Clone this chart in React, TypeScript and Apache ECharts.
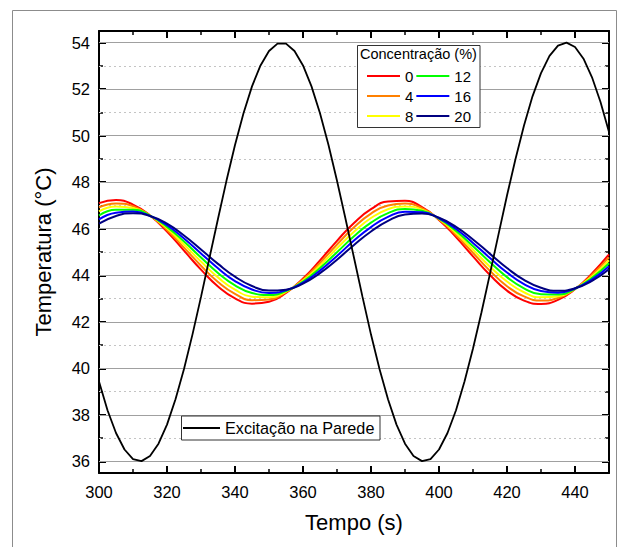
import React, { useEffect, useRef } from 'react';
import * as echarts from 'echarts';

const FONT = "'Liberation Sans', Arial, sans-serif";

// time (s) for the concentration curves
const TIME = [300, 305, 310, 315, 320, 325, 330, 335, 340, 345, 350, 355, 360, 365, 370, 375, 380, 385, 390, 395, 400, 405, 410, 415, 420, 425, 430, 435, 440, 445, 450];

// time (s) for the wall excitation (finer sampling)
const TIME_EXC = [300, 302.5, 305, 307.5, 310, 312.5, 315, 317.5, 320, 322.5, 325, 327.5, 330, 332.5, 335, 337.5, 340, 342.5, 345, 347.5, 350, 352.5, 355, 357.5, 360, 362.5, 365, 367.5, 370, 372.5, 375, 377.5, 380, 382.5, 385, 387.5, 390, 392.5, 395, 397.5, 400, 402.5, 405, 407.5, 410, 412.5, 415, 417.5, 420, 422.5, 425, 427.5, 430, 432.5, 435, 437.5, 440, 442.5, 445, 447.5, 450];

// wall excitation (°C)
const EXCITATION = [39.43, 38.20, 37.22, 36.51, 36.10, 36.01, 36.23, 36.76, 37.58, 38.67, 39.97, 41.46, 43.07, 44.75, 46.43, 48.07, 49.60, 50.96, 52.12, 53.02, 53.64, 53.96, 53.96, 53.64, 53.02, 52.12, 50.96, 49.60, 48.06, 46.43, 44.75, 43.07, 41.45, 39.97, 38.67, 37.58, 36.76, 36.23, 36.01, 36.10, 36.51, 37.22, 38.20, 39.43, 40.85, 42.41, 44.07, 45.76, 47.43, 49.00, 50.44, 51.69, 52.69, 53.43, 53.87, 54.00, 53.81, 53.31, 52.51, 51.45, 50.16];

// temperature response per concentration (%)
const C0 = [47.10, 47.23, 47.04, 46.57, 45.88, 45.06, 44.24, 43.52, 43.01, 42.78, 42.86, 43.24, 43.86, 44.64, 45.48, 46.25, 46.84, 47.17, 47.20, 46.93, 46.38, 45.64, 44.81, 44.01, 43.34, 42.91, 42.77, 42.94, 43.40, 44.08, 44.90];
const C4 = [46.92, 47.09, 46.97, 46.57, 45.95, 45.19, 44.41, 43.71, 43.20, 42.93, 42.96, 43.27, 43.82, 44.53, 45.32, 46.06, 46.65, 47.00, 47.08, 46.88, 46.40, 45.73, 44.96, 44.19, 43.53, 43.09, 42.91, 43.02, 43.41, 44.02, 44.77];
const C8 = [46.75, 46.96, 46.89, 46.56, 46.02, 45.32, 44.59, 43.91, 43.38, 43.08, 43.05, 43.30, 43.77, 44.42, 45.16, 45.87, 46.46, 46.84, 46.96, 46.82, 46.42, 45.82, 45.10, 44.37, 43.73, 43.27, 43.05, 43.10, 43.42, 43.95, 44.64];
const C12 = [46.57, 46.82, 46.82, 46.56, 46.08, 45.45, 44.76, 44.10, 43.57, 43.24, 43.15, 43.32, 43.73, 44.31, 44.99, 45.68, 46.26, 46.67, 46.85, 46.77, 46.43, 45.90, 45.25, 44.56, 43.92, 43.44, 43.18, 43.17, 43.42, 43.89, 44.52];
const C16 = [46.40, 46.69, 46.74, 46.55, 46.15, 45.58, 44.94, 44.30, 43.75, 43.39, 43.24, 43.35, 43.68, 44.20, 44.83, 45.49, 46.07, 46.51, 46.73, 46.71, 46.45, 45.99, 45.39, 44.74, 44.12, 43.62, 43.32, 43.25, 43.43, 43.82, 44.39];
const C20 = [46.22, 46.55, 46.67, 46.55, 46.22, 45.71, 45.11, 44.49, 43.94, 43.54, 43.34, 43.38, 43.64, 44.09, 44.67, 45.30, 45.88, 46.34, 46.61, 46.66, 46.47, 46.08, 45.54, 44.92, 44.31, 43.80, 43.46, 43.33, 43.44, 43.76, 44.26];

const CONC_NAMES = ['0', '4', '8', '12', '16', '20'];
const CONC_DATA = [C0, C4, C8, C12, C16, C20];
const CONC_COLORS = ['#FF0000', '#FF8000', '#FFFF00', '#00FF00', '#0000FF', '#000080'];
const LEGEND_ORDER = ['0', '12', '4', '16', '8', '20'];
const EXC_NAME = 'Excitação na Parede';

const Y_MAJOR = [36, 38, 40, 42, 44, 46, 48, 50, 52, 54];
const Y_MINOR = [37, 39, 41, 43, 45, 47, 49, 51, 53];
const Y_MIN = 35.5;
const Y_MAX = 54.5;

export default function App() {
  const ref = useRef<HTMLDivElement>(null);

  useEffect(() => {
    if (!ref.current) return;
    const chart = echarts.init(ref.current, null, { renderer: 'svg' });

    const axisLine = { show: true, onZero: false, lineStyle: { color: '#000', width: 2 } };

    const xBase = (pos: 'bottom' | 'top', labels: boolean) => ({
      type: 'value',
      position: pos,
      min: 300,
      max: 450,
      interval: 20,
      axisLine,
      axisTick: { show: true, inside: true, length: 7, lineStyle: { color: '#000', width: 2 } },
      minorTick: { show: true, splitNumber: 2, length: 4, lineStyle: { color: '#000', width: 1.5 } },
      axisLabel: {
        show: labels,
        showMaxLabel: false,
        fontSize: 16.5,
        color: '#000',
        margin: 10,
        fontFamily: FONT,
      },
      splitLine: { show: false },
      ...(labels
        ? {
            name: 'Tempo (s)',
            nameLocation: 'middle',
            nameGap: 38,
            nameTextStyle: { fontSize: 22, color: '#000', fontFamily: FONT },
          }
        : {}),
    });

    const yMajor = (pos: 'left' | 'right', labels: boolean) => ({
      type: 'value',
      position: pos,
      min: Y_MIN,
      max: Y_MAX,
      axisLine,
      axisTick: { show: true, inside: true, length: 7, customValues: Y_MAJOR, lineStyle: { color: '#000', width: 2 } },
      axisLabel: {
        show: labels,
        customValues: Y_MAJOR,
        fontSize: 16.5,
        color: '#000',
        margin: 9,
        fontFamily: FONT,
      },
      splitLine: { show: false },
      ...(labels
        ? {
            name: 'Temperatura (°C)',
            nameLocation: 'middle',
            nameGap: 45,
            nameTextStyle: { fontSize: 22, color: '#000', fontFamily: FONT },
          }
        : {}),
    });

    const yMinor = (pos: 'left' | 'right') => ({
      type: 'value',
      position: pos,
      min: Y_MIN,
      max: Y_MAX,
      axisLine: { show: false },
      axisTick: { show: true, inside: true, length: 4, customValues: Y_MINOR, lineStyle: { color: '#000', width: 1.5 } },
      axisLabel: { show: false, customValues: Y_MINOR },
      splitLine: { show: false },
    });

    const gridLines = [
      ...Y_MAJOR.map((v) => ({ yAxis: v, lineStyle: { color: '#a0a0a0', width: 1, type: 'solid' } })),
      ...Y_MINOR.map((v) => ({ yAxis: v, lineStyle: { color: '#c4c4c4', width: 1, type: [2, 3] } })),
    ];

    const series: any[] = [
      {
        name: '__grid',
        type: 'line',
        data: [],
        silent: true,
        z: 1,
        markLine: {
          silent: true,
          z: 1,
          symbol: ['none', 'none'],
          label: { show: false },
          emphasis: { disabled: true },
          data: gridLines,
        },
      },
      ...CONC_NAMES.map((name, i) => ({
        name,
        type: 'line',
        data: TIME.map((t, k) => [t, CONC_DATA[i][k]]),
        smooth: true,
        symbol: 'none',
        showSymbol: false,
        z: 2,
        lineStyle: { color: CONC_COLORS[i], width: 2 },
        itemStyle: { color: CONC_COLORS[i] },
      })),
      {
        name: EXC_NAME,
        type: 'line',
        data: TIME_EXC.map((t, k) => [t, EXCITATION[k]]),
        smooth: false,
        symbol: 'none',
        showSymbol: false,
        z: 3,
        lineStyle: { color: '#000', width: 1.8 },
        itemStyle: { color: '#000' },
      },
    ];

    chart.setOption({
      animation: false,
      backgroundColor: '#fff',
      grid: { left: 99, right: 11, top: 31, bottom: 74, containLabel: false },
      xAxis: [xBase('bottom', true), xBase('top', false)],
      yAxis: [yMajor('left', true), yMinor('left'), yMajor('right', false), yMinor('right')],
      legend: [
        {
          data: LEGEND_ORDER,
          left: 367,
          top: 67.5,
          width: 125,
          orient: 'horizontal',
          icon: 'rect',
          itemWidth: 33,
          itemHeight: 2,
          itemGap: 3,
          padding: 0,
          selectedMode: false,
          z: 6,
          textStyle: { fontSize: 15, lineHeight: 17, color: '#000', fontFamily: FONT },
        },
        {
          data: [EXC_NAME],
          left: 183,
          top: 420,
          icon: 'rect',
          itemWidth: 37,
          itemHeight: 2,
          padding: 0,
          selectedMode: false,
          z: 6,
          textStyle: { fontSize: 16.2, lineHeight: 16, color: '#000', fontFamily: FONT },
        },
      ],
      graphic: [
        {
          type: 'rect',
          silent: true,
          z: -10,
          shape: { x: 12.5, y: 10.5, width: 604, height: 545 },
          style: { fill: 'none', stroke: '#8c8c8c', lineWidth: 1 },
        },
        {
          type: 'rect',
          silent: true,
          z: 5,
          shape: { x: 357.5, y: 45.5, width: 122.5, height: 82 },
          style: { fill: '#fff', stroke: '#333', lineWidth: 1 },
        },
        {
          type: 'text',
          silent: true,
          z: 7,
          x: 360,
          y: 54,
          style: {
            text: 'Concentração (%)',
            fontSize: 14.5,
            fontFamily: FONT,
            fill: '#000',
            verticalAlign: 'middle',
          },
        },
        {
          type: 'rect',
          silent: true,
          z: 5,
          shape: { x: 181.5, y: 416, width: 198.5, height: 24 },
          style: { fill: '#fff', stroke: '#333', lineWidth: 1 },
        },
      ],
      series,
    });

    return () => chart.dispose();
  }, []);

  return (
    <div
      ref={ref}
      style={{ position: 'fixed', left: 0, top: 0, width: 620, height: 547, background: '#fff' }}
    />
  );
}
